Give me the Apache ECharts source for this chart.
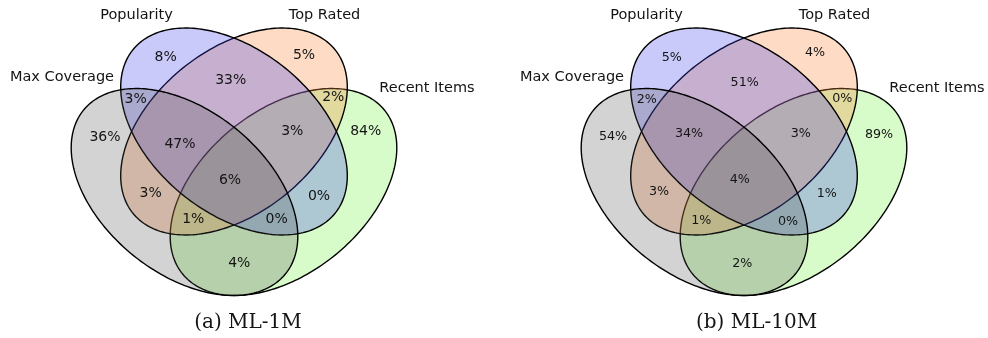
<!DOCTYPE html>
<html>
<head>
<meta charset="utf-8">
<script src="https://cdn.jsdelivr.net/npm/echarts@6/dist/echarts.min.js"></script>
<style>
  html, body { margin: 0; padding: 0; background: #ffffff; }
  #chart { width: 988px; height: 338px; }
</style>
</head>
<body>
<div id="chart"></div>
<script>
// Sets, in the bit order used by the region keys
const setNames = ['Max Coverage', 'Popularity', 'Top Rated', 'Recent Items'];
// One bit per set: Max Coverage, Popularity, Top Rated, Recent Items
const regionKeys = ['1000', '0100', '0010', '0001', '1100', '1010', '1001', '0110',
                    '0101', '0011', '1110', '1101', '1011', '0111', '1111'];
const panelTitles = ['(a) ML-1M', '(b) ML-10M'];
// Share of items (%) falling in each region, per dataset
const sharesML1M  = [36, 8, 5, 84, 3, 3, 4, 33, 0, 2, 47, 0, 1, 3, 6];
const sharesML10M = [54, 5, 4, 89, 2, 3, 2, 51, 1, 0, 34, 0, 1, 3, 4];
const panelShares = [sharesML1M, sharesML10M];

// ---- layout (panel units: x to the right, y downwards) ----
const PANEL_W = 478, PANEL_H = 338;
const PANEL_LEFT = [0, 510];
const ELLIPSES = [
  { cx: 184.5, cy: 192,   rx: 130, ry: 81.5, rot: 39 },   // Max Coverage
  { cx: 234,   cy: 131.5, rx: 130, ry: 81.5, rot: 39 },   // Popularity
  { cx: 234,   cy: 131.5, rx: 130, ry: 81.5, rot: -39 },  // Top Rated
  { cx: 283.5, cy: 192,   rx: 130, ry: 81.5, rot: -39 }   // Recent Items
];
const FILLS = ['rgba(72,72,72,0.24)', 'rgba(62,62,237,0.28)',
               'rgba(248,135,62,0.30)', 'rgba(125,245,75,0.30)'];
const PAINT_ORDER = [3, 2, 1, 0];
const NAME_POS = [[62, 77], [136.5, 15.5], [324.5, 15.5], [427, 88.5]];
const REGION_POS = [
  [[105, 137.3], [165.7, 57.3], [304, 55], [365.7, 131.7], [135.7, 99.3], [150.7, 193.3],
   [239.3, 263.3], [230.7, 80], [319, 196], [333.3, 97.7], [180, 144], [276.7, 219],
   [193.3, 219], [292.3, 131.7], [230, 180]],
  [[103, 136.7], [161.7, 57.3], [305, 52.7], [369, 134.7], [136.7, 99.3], [149, 191.7],
   [232.3, 264], [234.7, 82.7], [316.7, 193.3], [332.3, 99], [179, 134], [278, 221.7],
   [191.3, 221], [290.7, 134], [229.7, 180]]
];
const REGION_FONT = [14, 12.7];
const TITLE_POS = [[248, 323], [246.5, 323]];

function ellipsePoints(e, api) {
  const t = e.rot * Math.PI / 180, c = Math.cos(t), s = Math.sin(t);
  const pts = [];
  for (let k = 0; k < 240; k++) {
    const u = 2 * Math.PI * k / 240;
    const px = e.rx * Math.cos(u), py = e.ry * Math.sin(u);
    pts.push(api.coord([e.cx + px * c - py * s, e.cy + px * s + py * c]));
  }
  return pts;
}

function textEl(api, pos, text, font) {
  const p = api.coord(pos);
  return {
    type: 'text', x: p[0], y: p[1],
    style: { text: text, fill: '#141414', font: font, align: 'center', verticalAlign: 'middle' }
  };
}

function panelSeries(p) {
  return {
    type: 'custom',
    coordinateSystem: 'cartesian2d',
    xAxisIndex: p, yAxisIndex: p,
    silent: true, clip: false,
    data: [[0, 0]],
    renderItem: function (params, api) {
      const children = [];
      PAINT_ORDER.forEach(function (i) {
        children.push({
          type: 'polygon',
          shape: { points: ellipsePoints(ELLIPSES[i], api) },
          style: { fill: FILLS[i], stroke: '#000000', lineWidth: 1.4 }
        });
      });
      panelShares[p].forEach(function (v, r) {
        children.push(textEl(api, REGION_POS[p][r], v + '%', REGION_FONT[p] + 'px "DejaVu Sans"'));
      });
      setNames.forEach(function (n, i) {
        children.push(textEl(api, NAME_POS[i], n, '14.5px "DejaVu Sans"'));
      });
      children.push(textEl(api, TITLE_POS[p], panelTitles[p], '20px "DejaVu Serif"'));
      return { type: 'group', children: children };
    }
  };
}

const chart = echarts.init(document.getElementById('chart'), null, { renderer: 'canvas' });
chart.setOption({
  animation: false,
  backgroundColor: '#ffffff',
  grid: PANEL_LEFT.map(function (l) {
    return { left: l, top: 0, width: PANEL_W, height: PANEL_H, containLabel: false };
  }),
  xAxis: PANEL_LEFT.map(function (l, i) {
    return { type: 'value', gridIndex: i, min: 0, max: PANEL_W, show: false };
  }),
  yAxis: PANEL_LEFT.map(function (l, i) {
    return { type: 'value', gridIndex: i, min: 0, max: PANEL_H, inverse: true, show: false };
  }),
  series: [panelSeries(0), panelSeries(1)]
});
</script>
</body>
</html>
